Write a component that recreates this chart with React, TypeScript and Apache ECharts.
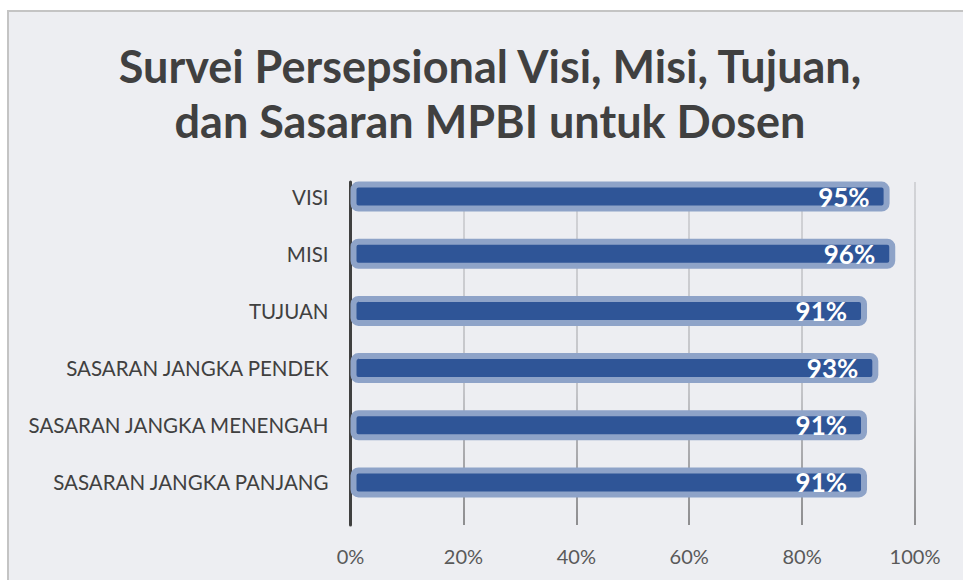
import React, { useEffect, useRef } from "react";
import * as echarts from "echarts";

const categories = [
  "VISI",
  "MISI",
  "TUJUAN",
  "SASARAN JANGKA PENDEK",
  "SASARAN JANGKA MENENGAH",
  "SASARAN JANGKA PANJANG",
];
const values = [0.955, 0.965, 0.915, 0.935, 0.915, 0.915];
const xTicks = [0, 0.2, 0.4, 0.6, 0.8, 1.0];
const titleLines = ["Survei Persepsional Visi, Misi, Tujuan,", "dan Sasaran MPBI untuk Dosen"];

export default function App() {
  const ref = useRef<HTMLDivElement>(null);
  useEffect(() => {
    if (!ref.current) return;
    const chart = echarts.init(ref.current, undefined, { renderer: "svg" });
    const plotLeft = 350.5;
    const plotRight = 48;
    chart.setOption({
      animation: false,
      backgroundColor: "#ffffff",
      graphic: [
        {
          type: "rect",
          z: -10,
          silent: true,
          shape: { x: 8, y: 11, width: 970, height: 590 },
          style: { fill: "#EDEEF2", stroke: "#C4C4C4", lineWidth: 2 },
        },
        {
          type: "text",
          x: 490,
          y: 93,
          style: {
            text: titleLines.join("\n"),
            fill: "#404040",
            font: "bold 45px Lato, 'Open Sans', sans-serif",
            lineHeight: 55,
            align: "center",
            verticalAlign: "middle",
          },
        },
      ],
      grid: [
        { left: plotLeft, right: plotRight, top: 182, bottom: 55 },
        { left: plotLeft, right: plotRight, top: 168, bottom: 69 },
      ],
      xAxis: [
        {
          type: "value",
          gridIndex: 0,
          min: xTicks[0],
          max: xTicks[xTicks.length - 1],
          interval: 0.2,
          axisLine: { show: false },
          axisTick: { show: false },
          axisLabel: {
            margin: 21,
            color: "#595959",
            fontSize: 20,
            fontFamily: "Lato, 'Open Sans', sans-serif",
            formatter: (v: number) => Math.round(v * 100) + "%",
          },
          splitLine: {
            show: true,
            lineStyle: {
              width: 2,
              color: {
                type: "linear",
                x: 0,
                y: 182,
                x2: 0,
                y2: 525,
                global: true,
                colorStops: [
                  { offset: 0, color: "#D2D3D7" },
                  { offset: 0.6, color: "#C4C5C9" },
                  { offset: 1, color: "#8E8E90" },
                ],
              },
            },
          },
        },
        {
          type: "value",
          gridIndex: 1,
          min: 0,
          max: 1,
          show: false,
          splitLine: { show: false },
        },
      ],
      yAxis: [
        {
          type: "category",
          gridIndex: 0,
          data: categories,
          inverse: true,
          axisLine: { show: true, lineStyle: { color: "#404040", width: 3 } },
          axisTick: { show: false },
          axisLabel: { show: false },
          splitLine: { show: false },
        },
        {
          type: "category",
          gridIndex: 1,
          data: categories,
          inverse: true,
          axisLine: { show: false },
          axisTick: { show: false },
          axisLabel: {
            margin: 22,
            color: "#404040",
            fontSize: 20.5,
            fontFamily: "Lato, 'Open Sans', sans-serif",
          },
          splitLine: { show: false },
        },
      ],
      series: [
        {
          type: "bar",
          xAxisIndex: 1,
          yAxisIndex: 1,
          data: values,
          barWidth: 30,
          z: 1,
          itemStyle: {
            color: "#2F5597",
            borderColor: "#8EA3C8",
            borderWidth: 6,
            borderRadius: 5,
          },
          label: {
            show: true,
            position: "insideRight",
            distance: 20,
            color: "#ffffff",
            fontWeight: "bold",
            fontSize: 26,
            fontFamily: "Lato, 'Open Sans', sans-serif",
            formatter: (p: any) => Math.floor(p.value * 100 + 1e-6) + "%",
          },
        },
      ],
    });
    return () => chart.dispose();
  }, []);
  return (
    <div
      ref={ref}
      style={{ position: "absolute", left: 0, top: 0, width: 963, height: 580 }}
    />
  );
}
